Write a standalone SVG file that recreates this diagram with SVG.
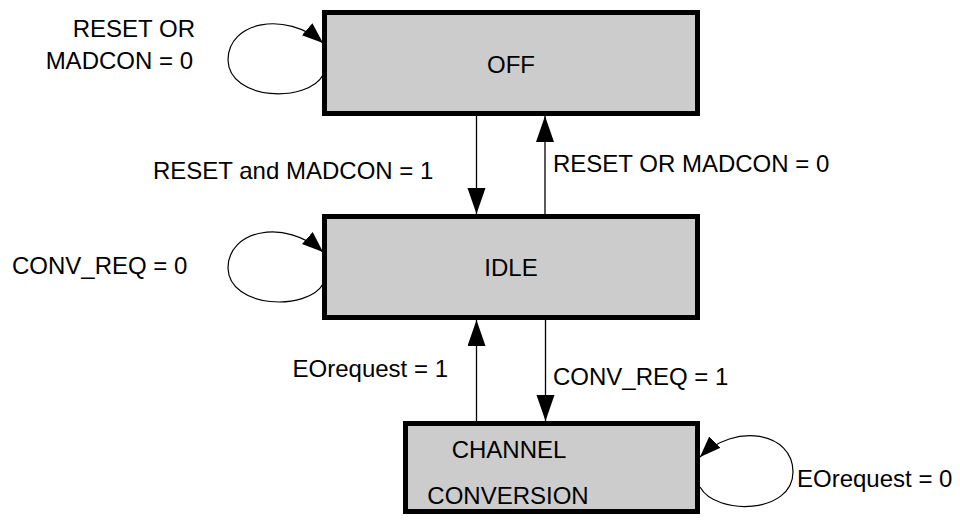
<svg xmlns="http://www.w3.org/2000/svg" width="960" height="525" viewBox="0 0 960 525">
<style>
.box{fill:#cccccc;stroke:#000;stroke-width:5}
.t{font-family:"Liberation Sans",Arial,sans-serif;font-size:24px;fill:#000}
.c{text-anchor:middle}
.e{text-anchor:end}
.ln{fill:none;stroke:#000;stroke-width:1.3}
.lp{fill:none;stroke:#000;stroke-width:1.2}
</style>
<defs>
<marker id="ah" markerUnits="userSpaceOnUse" markerWidth="28" markerHeight="20" refX="26" refY="9" orient="auto">
<path d="M0,0 L26,9 L0,18 Z" fill="#000"/>
</marker>
<marker id="ahs" markerUnits="userSpaceOnUse" markerWidth="24" markerHeight="18" refX="21" refY="8" orient="auto">
<path d="M0,0 L21,8 L0,16 Z" fill="#000"/>
</marker>
</defs>
<g id="connectors">
<line class="ln" x1="476.5" y1="116" x2="476.5" y2="214" marker-end="url(#ah)"/>
<line class="ln" x1="545" y1="214" x2="545" y2="116" marker-end="url(#ah)"/>
<line class="ln" x1="545.5" y1="320" x2="545.5" y2="421" marker-end="url(#ah)"/>
<line class="ln" x1="476.5" y1="421" x2="476.5" y2="320" marker-end="url(#ah)"/>
<path class="lp" d="M323,75 C308,103 229,101 228,60 C228,22 285,10 323,43" marker-end="url(#ahs)"/>
<path class="lp" d="M323,284 C308,311 229,309 228,268 C228,230 285,218 323,252" marker-end="url(#ahs)"/>
<path class="lp" d="M700,487 C716,516 793,514 793,472 C793,432 735,422 700,457" marker-end="url(#ahs)"/>
<text class="t e" x="195" y="37">RESET OR</text>
<text class="t e" x="193" y="69">MADCON = 0</text>
<text class="t" x="153" y="179">RESET and MADCON = 1</text>
<text class="t" x="553" y="172">RESET OR MADCON = 0</text>
<text class="t" x="12" y="274">CONV_REQ = 0</text>
<text class="t e" x="448" y="377">EOrequest = 1</text>
<text class="t" x="553" y="385">CONV_REQ = 1</text>
<text class="t" x="797" y="487">EOrequest = 0</text>
</g>
<g id="off">
<rect class="box" x="324.5" y="12.5" width="373" height="101"/>
<text class="t c" x="511" y="73">OFF</text>
</g>
<g id="idle">
<rect class="box" x="324.5" y="216.5" width="373" height="101"/>
<text class="t c" x="511" y="276">IDLE</text>
</g>
<g id="channel">
<rect class="box" x="405.5" y="423.5" width="292" height="88"/>
<text class="t c" x="509" y="458">CHANNEL</text>
<text class="t c" x="508" y="504">CONVERSION</text>
</g>
</svg>
